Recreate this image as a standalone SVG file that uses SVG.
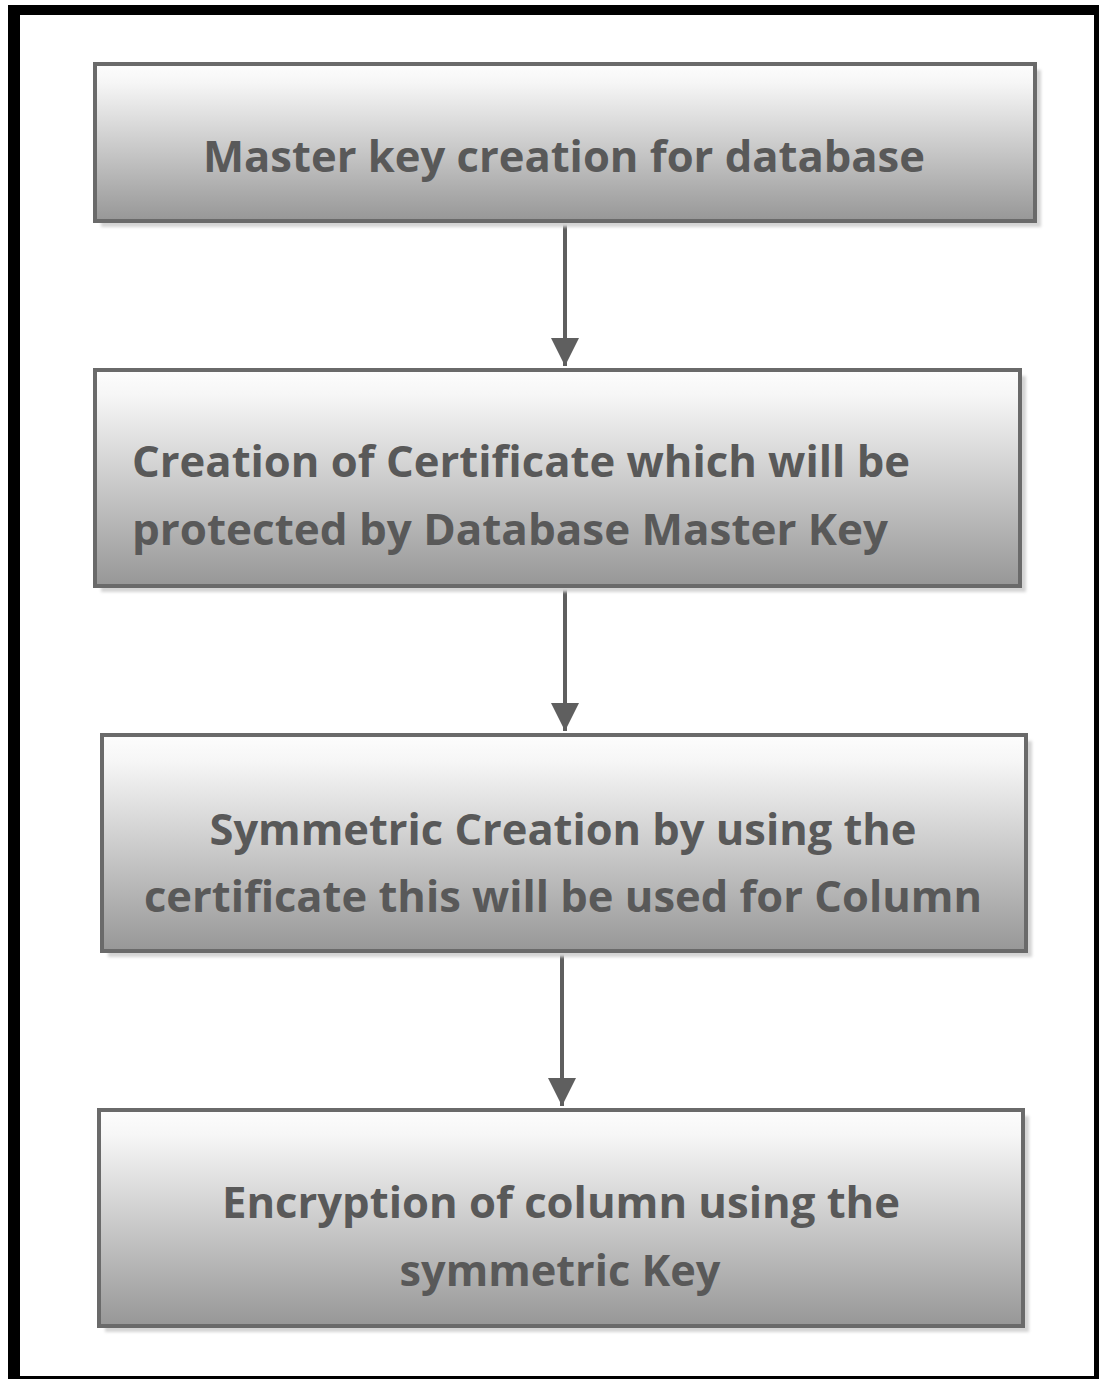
<svg xmlns="http://www.w3.org/2000/svg" width="1103" height="1379" viewBox="0 0 1103 1379">
  <defs>
    <linearGradient id="boxFill" x1="0" y1="0" x2="0" y2="1">
      <stop offset="0" stop-color="#fdfdfd"/>
      <stop offset="0.12" stop-color="#f6f6f6"/>
      <stop offset="1" stop-color="#979797"/>
    </linearGradient>
    <filter id="soft" x="-5%" y="-10%" width="110%" height="120%">
      <feGaussianBlur stdDeviation="1.5"/>
    </filter>
    <!-- solid triangular head, drawn pointing along +x so orient="auto" turns it with the line -->
    <marker id="arrow" viewBox="0 0 28 28" refX="28" refY="14" markerWidth="28" markerHeight="28" markerUnits="userSpaceOnUse" orient="auto">
      <path d="M0,0 L28,14 L0,28 Z" fill="#5f5f5f"/>
    </marker>
  </defs>
  <style>
    .shadow { fill: #d4d4d4; filter: url(#soft); }
    .box { fill: url(#boxFill); stroke: #6a6a6a; stroke-width: 4; }
    .label { font-family: "Open Sans", "Noto Sans", "DejaVu Sans", sans-serif; font-weight: bold; font-size: 43px; fill: #595959; }
    .link { stroke: #5f5f5f; stroke-width: 4; fill: none; }
  </style>

  <rect x="0" y="0" width="1103" height="1379" fill="#ffffff"/>

  <!-- outer frame -->
  <path d="M8,5 H1099 V1379 H8 Z M20,15 V1376 H1094 V15 Z" fill="#000000" fill-rule="evenodd"/>

  <!-- connectors -->
  <g id="connectors">
    <path class="link" d="M565,223 V366" marker-end="url(#arrow)"/>
    <path class="link" d="M565,588 V731" marker-end="url(#arrow)"/>
    <path class="link" d="M562,953 V1106" marker-end="url(#arrow)"/>
  </g>

  <g id="master-key">
    <rect class="shadow" x="101" y="70" width="940" height="157"/>
    <rect class="box" x="95" y="64" width="940" height="157"/>
    <text class="label" x="564" y="172" text-anchor="middle" textLength="722" lengthAdjust="spacingAndGlyphs">Master key creation for database</text>
  </g>

  <g id="certificate">
    <rect class="shadow" x="101" y="376" width="925" height="216"/>
    <rect class="box" x="95" y="370" width="925" height="216"/>
    <text class="label" x="132" y="477" textLength="778" lengthAdjust="spacingAndGlyphs">Creation of Certificate which will be</text>
    <text class="label" x="132" y="545" textLength="756" lengthAdjust="spacingAndGlyphs">protected by Database Master Key</text>
  </g>

  <g id="symmetric-key">
    <rect class="shadow" x="108" y="741" width="924" height="216"/>
    <rect class="box" x="102" y="735" width="924" height="216"/>
    <text class="label" x="563" y="845" text-anchor="middle" textLength="707" lengthAdjust="spacingAndGlyphs">Symmetric Creation by using the</text>
    <text class="label" x="563" y="912" text-anchor="middle" textLength="838" lengthAdjust="spacingAndGlyphs">certificate this will be used for Column</text>
  </g>

  <g id="encryption">
    <rect class="shadow" x="105" y="1116" width="924" height="216"/>
    <rect class="box" x="99" y="1110" width="924" height="216"/>
    <text class="label" x="561" y="1218" text-anchor="middle" textLength="678" lengthAdjust="spacingAndGlyphs">Encryption of column using the</text>
    <text class="label" x="560" y="1286" text-anchor="middle" textLength="321" lengthAdjust="spacingAndGlyphs">symmetric Key</text>
  </g>
</svg>
